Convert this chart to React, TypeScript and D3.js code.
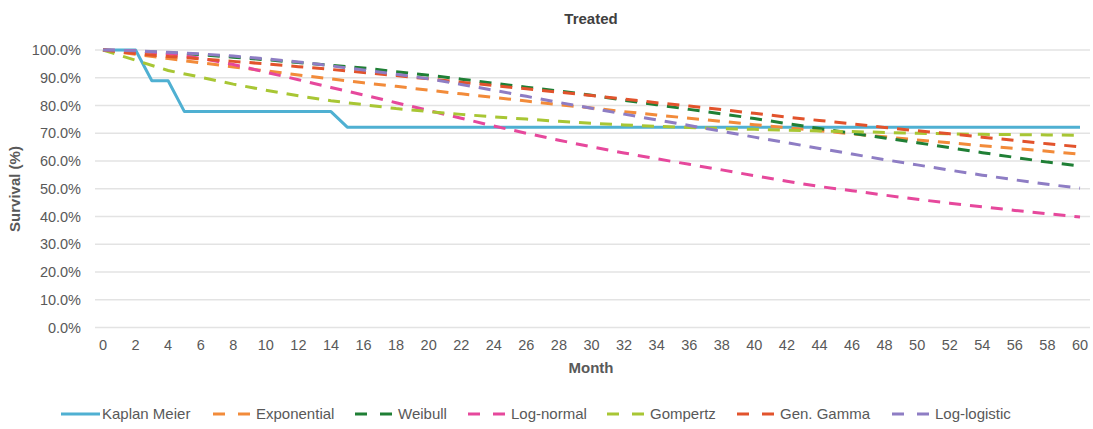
import React, { useRef, useEffect } from "react";
import * as d3 from "d3";

// model curves are read every 2 months
const months = [0, 2, 4, 6, 8, 10, 12, 14, 16, 18, 20, 22, 24, 26, 28, 30, 32, 34, 36, 38, 40, 42, 44, 46, 48, 50, 52, 54, 56, 58, 60];

const kmMonths = [0, 2, 3, 4, 5, 14, 15, 60];
const kaplanMeier = [100, 100, 88.9, 88.9, 77.8, 77.8, 72.2, 72.2];

const exponential = [100, 98.5, 96.9, 95.4, 93.9, 92.5, 91.0, 89.6, 88.2, 86.9, 85.5, 84.2, 82.9, 81.6, 80.3, 79.1, 77.8, 76.6, 75.4, 74.3, 73.1, 72.0, 70.9, 69.8, 68.7, 67.6, 66.6, 65.5, 64.5, 63.5, 62.5];
const weibull = [100, 99.6, 99.0, 98.3, 97.4, 96.5, 95.5, 94.5, 93.5, 92.2, 90.9, 89.5, 88.0, 86.6, 85.2, 83.7, 81.9, 80.3, 78.6, 77.0, 75.3, 73.5, 71.7, 70.0, 68.3, 66.6, 64.8, 63.0, 61.3, 59.6, 58.2];
const logNormal = [100, 99.7, 98.7, 97.0, 94.8, 92.0, 89.3, 86.5, 83.8, 81.0, 78.2, 75.4, 72.6, 70.0, 67.5, 65.1, 62.9, 60.8, 58.8, 56.8, 54.7, 52.7, 50.8, 49.3, 47.7, 46.2, 44.8, 43.5, 42.2, 41.0, 39.8];
const gompertz = [100, 96.3, 92.6, 90.2, 87.7, 85.5, 83.5, 81.7, 80.3, 78.9, 77.8, 76.8, 75.9, 75.1, 74.3, 73.6, 73.0, 72.5, 72.1, 71.7, 71.4, 71.1, 70.8, 70.6, 70.3, 70.0, 69.8, 69.6, 69.5, 69.4, 69.3];
const genGamma = [100, 98.7, 97.7, 96.8, 95.9, 95.0, 94.0, 93.0, 91.9, 90.8, 89.6, 88.4, 87.2, 86.0, 84.8, 83.6, 82.3, 81.0, 79.8, 78.5, 77.2, 75.8, 74.6, 73.4, 72.1, 70.9, 69.8, 68.6, 67.4, 66.2, 65.1];
const logLogistic = [100, 99.7, 99.2, 98.6, 97.8, 96.8, 95.7, 94.3, 92.8, 91.3, 89.6, 87.6, 85.5, 83.3, 81.1, 79.0, 76.9, 74.8, 72.8, 70.7, 68.6, 66.6, 64.5, 62.5, 60.5, 58.6, 56.7, 54.9, 53.2, 51.6, 50.2];

const seriesNames = ["Kaplan Meier", "Exponential", "Weibull", "Log-normal", "Gompertz", "Gen. Gamma", "Log-logistic"];
const seriesColors = ["#4FB0D2", "#F28B3A", "#1F7F35", "#E6489C", "#A8C634", "#E2532C", "#8E7DC4"];

const yTicks = [0, 10, 20, 30, 40, 50, 60, 70, 80, 90, 100];
const xTicks = months;

const W = 1093;
const H = 429;
const FONT = "'Liberation Sans', Arial, sans-serif";
// legend item starts (px)
const legendX = [61, 213, 355, 468, 607, 737, 892];

const SurvivalChart = () => {
  const svgRef = useRef(null);

  useEffect(() => {
    const svg = d3.select(svgRef.current);
    svg.selectAll("*").remove();

    const x = d3.scaleLinear().domain([0, 60]).range([103, 1080]);
    const y = d3.scaleLinear().domain([0, 100]).range([327.5, 50]);

    // gridlines
    svg
      .append("g")
      .selectAll("line")
      .data(yTicks)
      .enter()
      .append("line")
      .attr("x1", 95)
      .attr("x2", 1090)
      .attr("y1", (d) => y(d))
      .attr("y2", (d) => y(d))
      .attr("stroke", "#E3E3E3")
      .attr("stroke-width", 1.3);

    // y tick labels
    svg
      .append("g")
      .selectAll("text")
      .data(yTicks)
      .enter()
      .append("text")
      .attr("x", 81)
      .attr("y", (d) => y(d) + 5)
      .attr("text-anchor", "end")
      .attr("font-family", FONT)
      .attr("font-size", 14.5)
      .attr("fill", "#595959")
      .text((d) => d.toFixed(1) + "%");

    // x tick labels
    svg
      .append("g")
      .selectAll("text")
      .data(xTicks)
      .enter()
      .append("text")
      .attr("x", (d) => x(d))
      .attr("y", 350)
      .attr("text-anchor", "middle")
      .attr("font-family", FONT)
      .attr("font-size", 14.5)
      .attr("fill", "#595959")
      .text((d) => d);

    // titles
    svg
      .append("text")
      .attr("x", 591)
      .attr("y", 24)
      .attr("text-anchor", "middle")
      .attr("font-family", FONT)
      .attr("font-size", 15)
      .attr("font-weight", "bold")
      .attr("fill", "#404040")
      .text("Treated");

    svg
      .append("text")
      .attr("x", 591)
      .attr("y", 373)
      .attr("text-anchor", "middle")
      .attr("font-family", FONT)
      .attr("font-size", 15)
      .attr("font-weight", "bold")
      .attr("fill", "#595959")
      .text("Month");

    svg
      .append("text")
      .attr("transform", "translate(20, 189) rotate(-90)")
      .attr("text-anchor", "middle")
      .attr("font-family", FONT)
      .attr("font-size", 15)
      .attr("font-weight", "bold")
      .attr("fill", "#595959")
      .text("Survival (%)");

    const line = d3
      .line<[number, number]>()
      .x((d) => x(d[0]))
      .y((d) => y(d[1]));

    const models = [exponential, weibull, logNormal, gompertz, genGamma, logLogistic];

    // Kaplan Meier first, fitted models on top
    svg
      .append("path")
      .attr("d", line(kmMonths.map((m, i) => [m, kaplanMeier[i]])))
      .attr("fill", "none")
      .attr("stroke", seriesColors[0])
      .attr("stroke-width", 3)
      .attr("stroke-linejoin", "round");

    models.forEach((vals, k) => {
      svg
        .append("path")
        .attr("d", line(months.map((m, i) => [m, vals[i]])))
        .attr("fill", "none")
        .attr("stroke", seriesColors[k + 1])
        .attr("stroke-width", 3)
        .attr("stroke-dasharray", "12 9");
    });

    // legend
    const legend = svg
      .append("g")
      .selectAll("g")
      .data(seriesNames)
      .enter()
      .append("g")
      .attr("transform", (d, i) => `translate(${legendX[i]}, 414)`);

    legend
      .append("line")
      .attr("x1", 0)
      .attr("x2", (d, i) => (i === 0 ? 39 : 37))
      .attr("y1", 0)
      .attr("y2", 0)
      .attr("stroke", (d, i) => seriesColors[i])
      .attr("stroke-width", 3)
      .attr("stroke-dasharray", (d, i) => (i === 0 ? null : "12 13"));

    legend
      .append("text")
      .attr("x", (d, i) => (i === 0 ? 41 : 43))
      .attr("y", 5)
      .attr("font-family", FONT)
      .attr("font-size", 15)
      .attr("fill", "#595959")
      .text((d) => d);
  }, []);

  return (
    <svg
      ref={svgRef}
      width={W}
      height={H}
      style={{ position: "absolute", left: 0, top: 0, background: "#fff" }}
    ></svg>
  );
};

export default function App() {
  return <SurvivalChart />;
}
